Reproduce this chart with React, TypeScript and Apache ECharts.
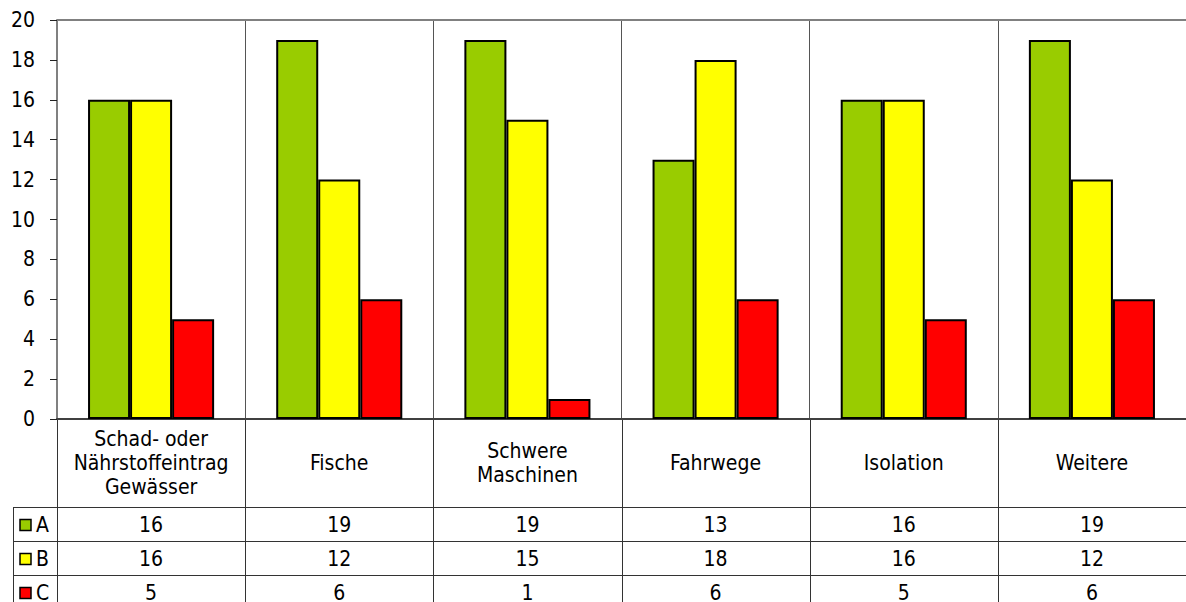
import React, { useEffect, useRef } from 'react';
import * as echarts from 'echarts';

const categories = [
  'Schad- oder\nNährstoffeintrag\nGewässer',
  'Fische',
  'Schwere\nMaschinen',
  'Fahrwege',
  'Isolation',
  'Weitere',
];
const seriesNames = ['A', 'B', 'C'];
const seriesA = [16, 19, 19, 13, 16, 19];
const seriesB = [16, 12, 15, 18, 16, 12];
const seriesC = [5, 6, 1, 6, 5, 6];
const seriesValues = [seriesA, seriesB, seriesC];
const seriesColors = ['#99CC00', '#FFFF00', '#FF0000'];
const yMin = 0;
const yMax = 20;
const yInterval = 2;

const FONT = "'DejaVu Sans Condensed', 'Liberation Sans', sans-serif";
const FS = 21;
const W = 1186;
const H = 602;

export default function App() {
  const ref = useRef<HTMLDivElement>(null);

  useEffect(() => {
    if (!ref.current) return;
    const chart = echarts.init(ref.current, undefined, { renderer: 'svg' });
    const option: any = {
      animation: false,
      backgroundColor: '#fff',
      grid: { left: 57, right: -3, top: 20, bottom: 183, containLabel: false },
      xAxis: {
        type: 'category',
        data: categories,
        boundaryGap: true,
        axisLine: { show: true, lineStyle: { color: '#404040', width: 2 } },
        axisTick: { show: false },
        axisLabel: {
          interval: 0,
          margin: 44,
          verticalAlign: 'middle',
          lineHeight: 24,
          fontFamily: FONT,
          fontSize: FS,
          color: '#000',
        },
        splitLine: { show: true, interval: 0, lineStyle: { color: '#555', width: 1 } },
      },
      yAxis: {
        type: 'value',
        min: yMin,
        max: yMax,
        interval: yInterval,
        axisLine: { show: true, lineStyle: { color: '#808080', width: 2 } },
        axisTick: { show: true, length: 7, lineStyle: { color: '#222', width: 1 } },
        axisLabel: { margin: 22, fontFamily: FONT, fontSize: FS, color: '#000' },
        splitLine: { show: false },
      },
      series: seriesNames.map((name, i) => ({
        name,
        type: 'bar',
        data: seriesValues[i],
        barGap: '0%',
        barCategoryGap: '33%',
        itemStyle: { color: seriesColors[i], borderColor: '#000', borderWidth: 2 },
      })),
    };
    chart.setOption(option);

    // Build the data table below the plot from the axis' own layout
    const centers = categories.map((_, i) => chart.convertToPixel({ xAxisIndex: 0 }, i) as number);
    const bw = centers.length > 1 ? centers[1] - centers[0] : 188;
    const y0 = chart.convertToPixel({ yAxisIndex: 0 }, yMin) as number;
    const yTop = chart.convertToPixel({ yAxisIndex: 0 }, yMax) as number;
    const plotLeft = centers[0] - bw / 2;
    const labelAreaH = 88;
    const rowH = 34;
    const tableTop = y0 + labelAreaH;
    const tableLeft = 13;
    const crisp = (v: number) => Math.round(v) + 0.5;
    const lineStyle = { stroke: '#333', lineWidth: 1 };
    const g: any[] = [];

    g.push({
      type: 'line',
      shape: { x1: plotLeft, y1: yTop, x2: W, y2: yTop },
      style: { stroke: '#808080', lineWidth: 2 },
    });
    for (let i = 0; i <= categories.length; i++) {
      const x = crisp(centers[0] - bw / 2 + i * bw);
      g.push({
        type: 'line',
        shape: { x1: x, y1: y0, x2: x, y2: H },
        style: lineStyle,
      });
    }
    for (let r = 0; r <= seriesNames.length; r++) {
      const y = crisp(tableTop + r * rowH);
      g.push({
        type: 'line',
        shape: { x1: tableLeft, y1: y, x2: W, y2: y },
        style: lineStyle,
      });
    }
    g.push({
      type: 'line',
      shape: { x1: crisp(tableLeft), y1: tableTop, x2: crisp(tableLeft), y2: H },
      style: lineStyle,
    });
    seriesNames.forEach((name, r) => {
      const cy = tableTop + r * rowH + rowH / 2;
      g.push({
        type: 'rect',
        shape: { x: 20, y: Math.round(cy - 5.5) + 0.5, width: 11, height: 11 },
        style: { fill: seriesColors[r], stroke: '#000', lineWidth: 1.5 },
      });
      g.push({
        type: 'text',
        x: 36,
        y: cy + 1,
        style: {
          text: name,
          fontFamily: FONT,
          fontSize: FS,
          fill: '#000',
          align: 'left',
          verticalAlign: 'middle',
        },
      });
      seriesValues[r].forEach((v, c) => {
        g.push({
          type: 'text',
          x: centers[c],
          y: cy + 1,
          style: {
            text: String(v),
            fontFamily: FONT,
            fontSize: FS,
            fill: '#000',
            align: 'center',
            verticalAlign: 'middle',
          },
        });
      });
    });

    chart.setOption({ graphic: { elements: g } });

    return () => {
      chart.dispose();
    };
  }, []);

  return (
    <div
      ref={ref}
      style={{ position: 'absolute', left: 0, top: 0, width: W, height: H }}
    />
  );
}
